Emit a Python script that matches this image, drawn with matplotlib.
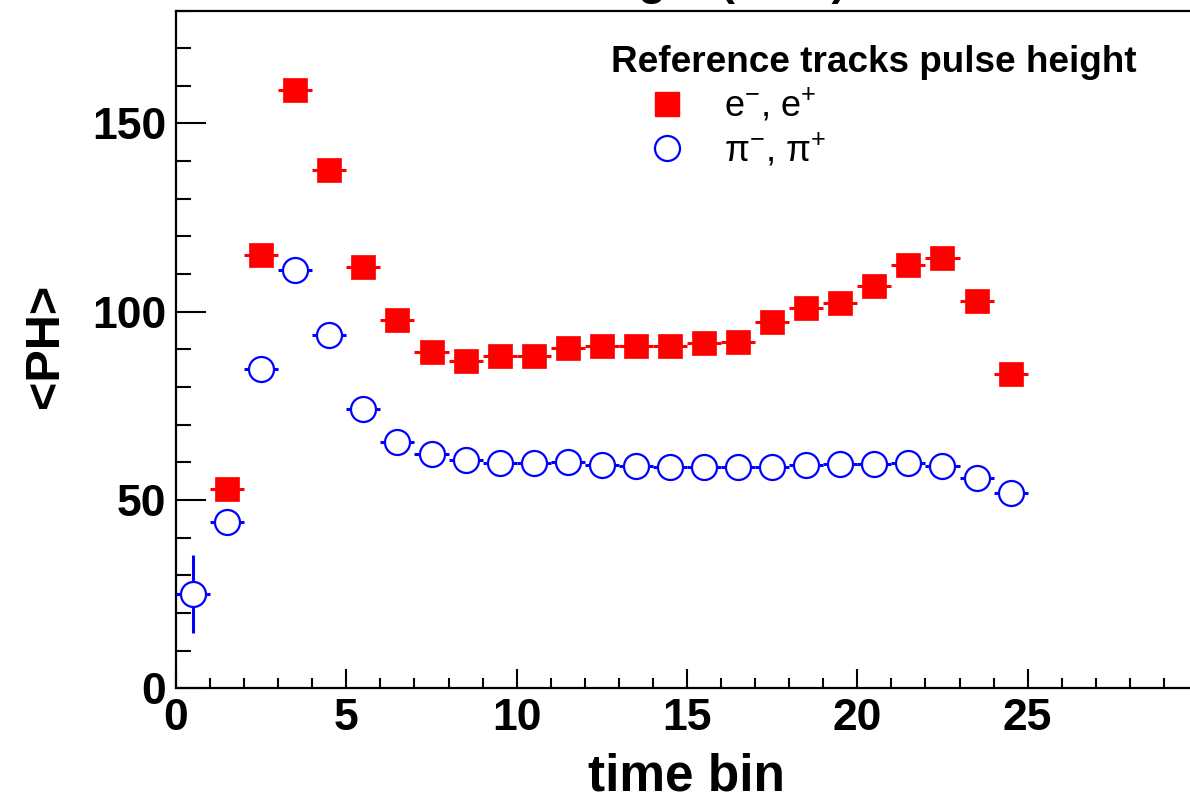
import matplotlib
matplotlib.use("Agg")
import matplotlib.pyplot as plt
from matplotlib.lines import Line2D
import numpy as np

plt.rcParams['font.family'] = ['Liberation Sans', 'DejaVu Sans']
plt.rcParams['mathtext.fontset'] = 'custom'
plt.rcParams['mathtext.rm'] = 'Liberation Sans'
plt.rcParams['mathtext.it'] = 'Liberation Sans:italic'
plt.rcParams['mathtext.bf'] = 'Liberation Sans:bold'

# ---- data ----
e_bins = [1.5, 2.5, 3.5, 4.5, 5.5, 6.5, 7.5, 8.5, 9.5, 10.5, 11.5, 12.5, 13.5,
          14.5, 15.5, 16.5, 17.5, 18.5, 19.5, 20.5, 21.5, 22.5, 23.5, 24.5]
e_ph = [52.8, 115.2, 159.0, 137.7, 111.8, 97.7, 89.4, 86.9, 88.3, 88.2, 90.5,
        90.9, 90.9, 90.8, 91.7, 92.0, 97.2, 101.1, 102.3, 106.8, 112.3, 114.3,
        102.9, 83.5]
e_err = [0.8, 0.6, 0.6, 0.5, 0.4, 0.4, 0.3, 0.3, 0.3, 0.3, 0.3, 0.3, 0.3,
         0.3, 0.3, 0.3, 0.3, 0.3, 0.3, 0.3, 0.3, 0.3, 0.3, 0.3]

pi_bins = [0.5, 1.5, 2.5, 3.5, 4.5, 5.5, 6.5, 7.5, 8.5, 9.5, 10.5, 11.5, 12.5,
           13.5, 14.5, 15.5, 16.5, 17.5, 18.5, 19.5, 20.5, 21.5, 22.5, 23.5, 24.5]
pi_ph = [25.0, 44.1, 84.8, 111.0, 93.7, 74.1, 65.5, 62.2, 60.5, 59.9, 59.9,
         60.0, 59.2, 59.0, 58.8, 58.7, 58.7, 58.8, 59.2, 59.5, 59.5, 59.7,
         59.0, 55.9, 51.8]
pi_err = [10.4, 0.6, 0.4, 0.3, 0.3, 0.2, 0.2, 0.2, 0.2, 0.2, 0.2, 0.2, 0.2,
          0.2, 0.2, 0.2, 0.2, 0.2, 0.2, 0.2, 0.2, 0.2, 0.2, 0.2, 0.2]
bin_half_width = 0.5

title_text = "Pulse height (ADC)"
legend_title = "Reference tracks pulse height"
labels = ["e$^{-}$, e$^{+}$", "\u03c0$^{-}$, \u03c0$^{+}$"]
x_label = "time bin"
y_label = "<PH>"

# ---- figure ----
W, H = 1190, 801
fig = plt.figure(figsize=(W / 100, H / 100), dpi=100)
left_px, right_px, bottom_px, top_px = 176, 1198, 688.3, 10.5
ax = fig.add_axes([left_px / W, 1 - bottom_px / H,
                   (right_px - left_px) / W, (bottom_px - top_px) / H])

red = '#ff0000'
blue = '#0000ff'

ax.errorbar(pi_bins, pi_ph, xerr=bin_half_width, yerr=pi_err, fmt='o',
            ms=18, mfc='white', mec=blue, mew=1.6, ecolor=blue,
            elinewidth=2.2, capsize=0, zorder=3)
ax.errorbar(e_bins, e_ph, xerr=bin_half_width, yerr=e_err, fmt='s',
            ms=17, mfc=red, mec=red, mew=0.5, ecolor=red,
            elinewidth=2.2, capsize=0, zorder=4)

ax.set_xlim(0, 30)
ax.set_ylim(0, 180)
ax.set_xticks([0, 5, 10, 15, 20, 25])
ax.set_xticks(np.arange(0, 31, 1), minor=True)
ax.set_yticks([0, 50, 100, 150])
ax.set_yticks(np.arange(0, 181, 10), minor=True)

for s in ['left', 'bottom', 'top', 'right']:
    ax.spines[s].set_linewidth(1.6)

ax.tick_params(axis='both', which='both', direction='in', width=1.5,
               top=False, right=False)
ax.tick_params(axis='x', which='major', length=13.7, pad=7, labelsize=32)
ax.tick_params(axis='x', which='minor', length=7.2)
ax.tick_params(axis='y', which='major', length=21.6, pad=7, labelsize=32)
ax.tick_params(axis='y', which='minor', length=10.8)
for lab in ax.get_xticklabels() + ax.get_yticklabels():
    lab.set_fontweight('bold')

ax.set_xlabel(x_label, fontsize=37, fontweight='bold')
ax.xaxis.set_label_coords(0.4995, (bottom_px - 777) / (bottom_px - top_px))
ax.xaxis.label.set_va('center')
ax.set_ylabel(y_label, fontsize=35, fontweight='bold')
ax.yaxis.set_label_coords((45 - left_px) / (right_px - left_px), 0.505)
ax.yaxis.label.set_va('center')
ax.yaxis.label.set_ha('center')

# title, mostly cut off at the very top as in the reference
fig.text(645 / W, 1 + 5 / H, title_text, ha='center', va='baseline',
         fontsize=32, fontweight='bold')

handles = [Line2D([], [], ls='none', marker='s', ms=17, mfc=red, mec=red),
           Line2D([], [], ls='none', marker='o', ms=18, mfc='white', mec=blue,
                  mew=1.6)]
leg = ax.legend(handles, labels, title=legend_title, loc='upper left',
                bbox_to_anchor=(611 / W, 1 - 45 / H),
                bbox_transform=fig.transFigure, frameon=False, borderpad=0,
                borderaxespad=0, handlelength=3.12, handletextpad=0.0,
                labelspacing=0.2, alignment='left', prop={'size': 26},
                title_fontproperties={'size': 26.6, 'weight': 'bold'})

fig.savefig('out.png', dpi=100)
